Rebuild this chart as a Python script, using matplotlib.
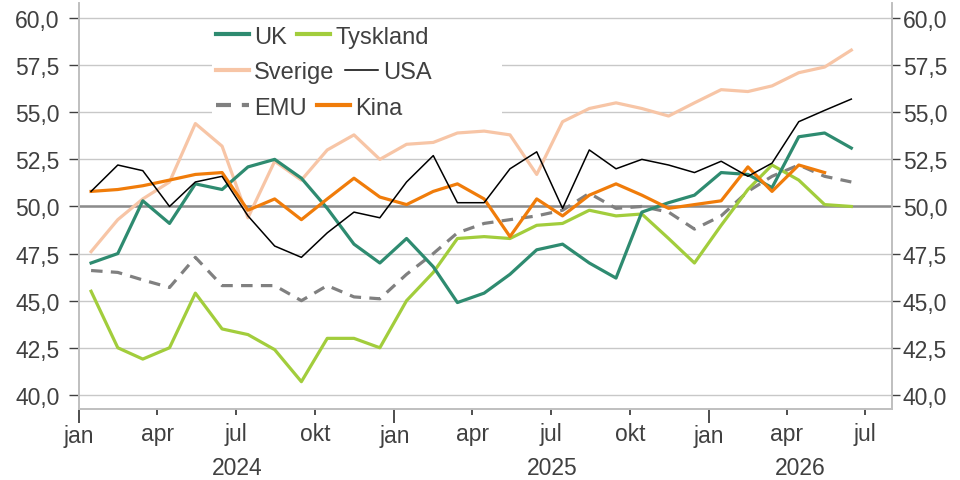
"""
PMI-indikatorer (industri) for UK, Tyskland, Sverige, USA, EMU og Kina
=======================================================================
Månedlige verdier jan 2024 - jun 2026, med 50-linjen markert.
"""

import pandas as pd
import matplotlib.pyplot as plt
import matplotlib.dates as mdates
from matplotlib.legend import Legend
from matplotlib.patches import Rectangle
from matplotlib.ticker import FixedLocator, FixedFormatter, FuncFormatter

# ─── Data ────────────────────────────────────────────────────────────────────

START_MONTH = "2024-01-01"
N_MONTHS = 30

uk = [47.0, 47.5, 50.3, 49.1, 51.2, 50.9, 52.1, 52.5, 51.5, 49.9,
      48.0, 47.0, 48.3, 46.8, 44.9, 45.4, 46.4, 47.7, 48.0, 47.0,
      46.2, 49.7, 50.2, 50.6, 51.8, 51.7, 51.0, 53.7, 53.9, 53.1]
tyskland = [45.5, 42.5, 41.9, 42.5, 45.4, 43.5, 43.2, 42.4, 40.7, 43.0,
            43.0, 42.5, 45.0, 46.5, 48.3, 48.4, 48.3, 49.0, 49.1, 49.8,
            49.5, 49.6, 48.3, 47.0, 49.0, 50.9, 52.2, 51.4, 50.1, 50.0]
sverige = [47.6, 49.3, 50.4, 51.3, 54.4, 53.2, 49.4, 52.4, 51.4, 53.0,
           53.8, 52.5, 53.3, 53.4, 53.9, 54.0, 53.8, 51.7, 54.5, 55.2,
           55.5, 55.2, 54.8, 55.5, 56.2, 56.1, 56.4, 57.1, 57.4, 58.3]
usa = [50.8, 52.2, 51.9, 50.0, 51.3, 51.6, 49.5, 47.9, 47.3, 48.6,
       49.7, 49.4, 51.3, 52.7, 50.2, 50.2, 52.0, 52.9, 49.9, 53.0,
       52.0, 52.5, 52.2, 51.8, 52.4, 51.6, 52.3, 54.5, 55.1, 55.7]
emu = [46.6, 46.5, 46.1, 45.7, 47.3, 45.8, 45.8, 45.8, 45.0, 45.8,
       45.2, 45.1, 46.4, 47.5, 48.6, 49.1, 49.3, 49.5, 49.8, 50.7,
       49.9, 50.0, 49.7, 48.8, 49.5, 50.8, 51.6, 52.2, 51.6, 51.3]
kina = [50.8, 50.9, 51.1, 51.4, 51.7, 51.8, 49.8, 50.4, 49.3, 50.4,
        51.5, 50.5, 50.1, 50.8, 51.2, 50.4, 48.4, 50.4, 49.5, 50.6,
        51.2, 50.6, 49.9, 50.1, 50.3, 52.1, 50.8, 52.2, 51.8, None]

y_ticks = [40.0, 42.5, 45.0, 47.5, 50.0, 52.5, 55.0, 57.5, 60.0]
month_ticks = ["2024-01-01", "2024-04-01", "2024-07-01", "2024-10-01",
               "2025-01-01", "2025-04-01", "2025-07-01", "2025-10-01",
               "2026-01-01", "2026-04-01", "2026-07-01"]
month_labels = ["jan", "apr", "jul", "okt", "jan", "apr", "jul", "okt",
                "jan", "apr", "jul"]
years = ["2024", "2025", "2026"]
legend_rows = [("UK", "Tyskland"), ("Sverige", "USA"), ("EMU", "Kina")]

# ─── Style ───────────────────────────────────────────────────────────────────

TEXT = "#404040"
GRID = "#c8c8c8"
FONT = 16.5
plt.rcParams["font.family"] = ["Liberation Sans", "DejaVu Sans"]

X_MIN = pd.Timestamp("2024-01-01")
X_MAX = pd.Timestamp("2026-08-01")
Y_MIN, Y_MAX = 39.25, 60.8


def main():
    dates = pd.date_range(START_MONTH, periods=N_MONTHS, freq="MS") + pd.Timedelta(days=14)
    kina_s = pd.Series(kina, dtype=float)

    fig = plt.figure(figsize=(9.6, 4.81), dpi=100)
    ax = fig.add_axes([0.0823, 0.1476, 0.8467, 0.8441])

    # horizontal grid + 50-linje
    for v in y_ticks:
        ax.axhline(v, color=GRID, lw=1.0, zorder=1)
    ax.axhline(50.0, color="#8c8c8c", lw=1.8, zorder=1)

    # hvit bakgrunn bak legend (skjuler gridlinjene)
    ax.add_patch(Rectangle((0.164, 0.724), 0.356, 0.234, transform=ax.transAxes,
                           facecolor="white", edgecolor="none", zorder=1.5))

    lines = {}
    lines["Sverige"], = ax.plot(dates, sverige, color="#f7c5a6", lw=2.3, zorder=2)
    lines["EMU"], = ax.plot(dates, emu, color="#808080", lw=2.3, dashes=(3.6, 2.6), zorder=3)
    lines["Tyskland"], = ax.plot(dates, tyskland, color="#a2cd3c", lw=2.3, zorder=4)
    lines["UK"], = ax.plot(dates, uk, color="#2e8b70", lw=2.3, zorder=5)
    lines["Kina"], = ax.plot(dates, kina_s, color="#f07c0a", lw=2.3, zorder=6)
    lines["USA"], = ax.plot(dates, usa, color="black", lw=1.1, zorder=7)

    ax.set_xlim(X_MIN, X_MAX)
    ax.set_ylim(Y_MIN, Y_MAX)

    # y-akser: venstre på ax, høyre på en tvilling
    fmt = FuncFormatter(lambda v, _: f"{v:.1f}".replace(".", ","))
    ax.set_yticks(y_ticks)
    ax.yaxis.set_major_formatter(fmt)
    ax.tick_params(axis="y", direction="out", length=7, width=1,
                   color=TEXT, labelcolor=TEXT, labelsize=FONT, pad=7)
    ax_r = ax.twinx()
    ax_r.set_ylim(Y_MIN, Y_MAX)
    ax_r.set_yticks(y_ticks)
    ax_r.yaxis.set_major_formatter(fmt)
    ax_r.tick_params(axis="y", direction="out", length=6, width=1,
                     color=TEXT, labelcolor=TEXT, labelsize=FONT, pad=2)

    # x-akse: jan = lang tick, ellers kort
    tick_pos = mdates.date2num(pd.to_datetime(month_ticks))
    major_idx = [i for i, m in enumerate(month_labels) if m == "jan"]
    minor_idx = [i for i, m in enumerate(month_labels) if m != "jan"]
    ax.xaxis.set_major_locator(FixedLocator([tick_pos[i] for i in major_idx]))
    ax.xaxis.set_major_formatter(FixedFormatter([month_labels[i] for i in major_idx]))
    ax.xaxis.set_minor_locator(FixedLocator([tick_pos[i] for i in minor_idx]))
    ax.xaxis.set_minor_formatter(FixedFormatter([month_labels[i] for i in minor_idx]))
    ax.tick_params(axis="x", which="major", direction="out", length=10, width=1.3,
                   color=TEXT, labelcolor=TEXT, labelsize=FONT, pad=1)
    ax.tick_params(axis="x", which="minor", direction="out", length=4, width=1.3,
                   color=TEXT, labelcolor=TEXT, labelsize=FONT, pad=5.3)

    # årstall sentrert under hvert år
    for yr in years:
        lo = max(pd.Timestamp(f"{yr}-01-01"), X_MIN)
        hi = min(pd.Timestamp(f"{int(yr) + 1}-01-01"), X_MAX)
        mid = lo + (hi - lo) / 2
        ax.text(mdates.date2num(mid), -0.143, yr, transform=ax.get_xaxis_transform(),
                ha="center", va="center", fontsize=FONT, color=TEXT)

    for a in (ax, ax_r):
        a.spines["top"].set_visible(False)
        for side in ["left", "right", "bottom"]:
            a.spines[side].set_color("#bfbfbf")
            a.spines[side].set_linewidth(1.2)

    # legend: én rad per legend, slik at radene flyter som i originalen
    row_y = [0.917, 0.829, 0.742]
    for (a_name, b_name), y in zip(legend_rows, row_y):
        leg = Legend(ax, [lines[a_name], lines[b_name]], [a_name, b_name], ncol=2,
                     loc="center left", bbox_to_anchor=(0.163, y), borderaxespad=0,
                     fontsize=FONT + 0.5, frameon=False, handlelength=1.4,
                     handletextpad=0.2, columnspacing=0.45, borderpad=0.2)
        for t in leg.get_texts():
            t.set_color(TEXT)
        for h in leg.legend_handles:
            if h.get_color() != "black":
                h.set_linewidth(3.0)
        leg.set_zorder(10)
        ax.add_artist(leg)

    fig.savefig("out.png", dpi=100)
    plt.close(fig)


if __name__ == "__main__":
    main()
